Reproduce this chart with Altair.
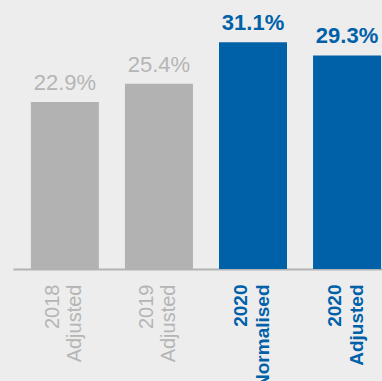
import altair as alt
import pandas as pd

categories = ["2018 Adjusted", "2019 Adjusted", "2020 Normalised", "2020 Adjusted"]
values = [22.9, 25.4, 31.1, 29.3]
labels = ["22.9%", "25.4%", "31.1%", "29.3%"]
highlight = ["no", "no", "yes", "yes"]

df = pd.DataFrame({"cat": categories, "val": values, "lab": labels, "hl": highlight})

GREY = "#b2b2b2"
BLUE = "#0061a8"

xenc = alt.X(
    "cat:N",
    sort=None,
    title=None,
    scale=alt.Scale(paddingInner=0.277, paddingOuter=0.1, align=0.95),
    axis=alt.Axis(
        labelAngle=270,
        labelExpr="split(datum.label, ' ')",
        labelFont="Liberation Sans",
        labelFontSize={"expr": "indexof(datum.value, '2020') === 0 ? 19 : 20"},
        labelLineHeight=22,
        labelPadding=15,
        labelOffset=-12,
        labelColor={"expr": "indexof(datum.value, '2020') === 0 ? '#0061a8' : '#b5b5b5'"},
        labelFontWeight={"expr": "indexof(datum.value, '2020') === 0 ? 'bold' : 'normal'"},
        ticks=False,
        tickSize=0,
        domainColor="#b3b3b3",
        domainWidth=2,
        grid=False,
    ),
)
yenc = alt.Y("val:Q", scale=alt.Scale(domain=[0, 36.9], nice=False, zero=True), axis=None)
color = alt.Color("hl:N", scale=alt.Scale(domain=["no", "yes"], range=[GREY, BLUE]), legend=None)

bars = alt.Chart(df).mark_bar().encode(x=xenc, y=yenc, color=color)

text_grey = alt.Chart(df).transform_filter("datum.hl === 'no'").mark_text(
    dy=-12, baseline="alphabetic", font="Liberation Sans", fontSize=22, color="#b5b5b5"
).encode(x=alt.X("cat:N", sort=categories), y="val:Q", text="lab:N")

text_blue = alt.Chart(df).transform_filter("datum.hl === 'yes'").mark_text(
    dy=-12, baseline="alphabetic", font="Liberation Sans", fontSize=22, color=BLUE, fontWeight="bold"
).encode(x=alt.X("cat:N", sort=categories), y="val:Q", text="lab:N")

chart = (
    alt.layer(bars, text_grey, text_blue)
    .properties(
        width=369,
        height=269,
        background="#ededed",
        padding={"left": 13, "top": 0, "right": 0, "bottom": 112},
        autosize=alt.AutoSizeParams(type="none"),
    )
    .configure_view(stroke=None)
)

chart.save("out.html", embed_options={"renderer": "svg", "actions": False})
